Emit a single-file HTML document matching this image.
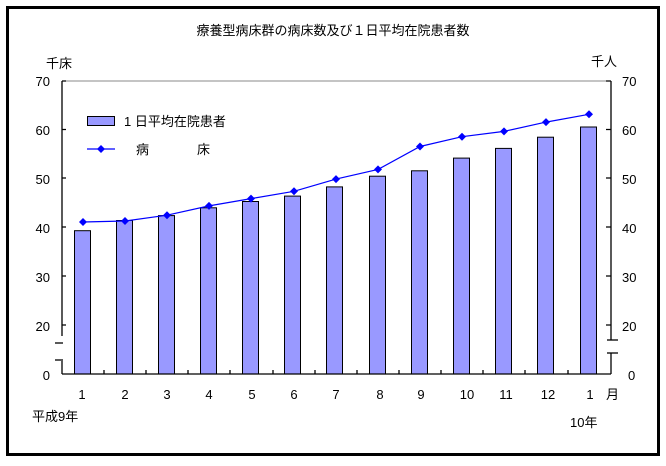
<!DOCTYPE html>
<html><head><meta charset="utf-8"><style>
body{margin:0;background:#fff}
svg text{font-family:"Liberation Sans","Noto Sans CJK JP",sans-serif;font-size:13px;fill:#000}
</style></head><body>
<svg width="666" height="461" xmlns="http://www.w3.org/2000/svg">
<rect x="7.5" y="7.5" width="651" height="447" fill="#fff" stroke="#000" stroke-width="3"/>
<text x="333" y="35" text-anchor="middle" font-size="14">療養型病床群の病床数及び１日平均在院患者数</text>
<text x="46" y="68">千床</text>
<text x="591" y="66">千人</text>
<line x1="62" y1="81" x2="611" y2="81" stroke="#888"/>
<g id="bars" fill="#9999ff" stroke="#000" stroke-width="1">
<rect x="74.5" y="230.7" width="16" height="143.3"/>
<rect x="116.5" y="220.5" width="16" height="153.5"/>
<rect x="158.5" y="215.6" width="16" height="158.4"/>
<rect x="200.5" y="207.8" width="16" height="166.2"/>
<rect x="242.5" y="201.5" width="16" height="172.5"/>
<rect x="284.5" y="196.1" width="16" height="177.9"/>
<rect x="326.5" y="186.9" width="16" height="187.1"/>
<rect x="369.5" y="176.2" width="16" height="197.8"/>
<rect x="411.5" y="170.8" width="16" height="203.2"/>
<rect x="453.5" y="158.1" width="16" height="215.9"/>
<rect x="495.5" y="148.4" width="16" height="225.6"/>
<rect x="537.5" y="137.2" width="16" height="236.8"/>
<rect x="580.5" y="127" width="16" height="247"/>
</g>
<polyline fill="none" stroke="#0000ff" stroke-width="1.2" points="83,222 125,221 167,215.2 209,205.9 251,198.6 294,191.3 336,179.1 378,169.4 420,146.5 462,136.7 504,131.4 546,122.1 589,114.3"/>
<g fill="#0000ff">
<path d="M83 218l4 4-4 4-4-4z"/><path d="M125 217l4 4-4 4-4-4z"/><path d="M167 211.2l4 4-4 4-4-4z"/><path d="M209 201.9l4 4-4 4-4-4z"/><path d="M251 194.6l4 4-4 4-4-4z"/><path d="M294 187.3l4 4-4 4-4-4z"/><path d="M336 175.1l4 4-4 4-4-4z"/><path d="M378 165.4l4 4-4 4-4-4z"/><path d="M420 142.5l4 4-4 4-4-4z"/><path d="M462 132.7l4 4-4 4-4-4z"/><path d="M504 127.4l4 4-4 4-4-4z"/><path d="M546 118.1l4 4-4 4-4-4z"/><path d="M589 110.3l4 4-4 4-4-4z"/>
</g>
<g stroke="#000" stroke-width="1.3" fill="none">
<line x1="62" y1="81" x2="62" y2="336"/><line x1="62" y1="361" x2="62" y2="374"/>
<line x1="55" y1="343" x2="63" y2="343"/><line x1="55" y1="360" x2="63" y2="360"/>
<line x1="611" y1="81" x2="611" y2="340"/><line x1="611" y1="353" x2="611" y2="374"/>
<line x1="607" y1="340" x2="618" y2="340"/><line x1="607" y1="353" x2="618" y2="353"/>
<line x1="62" y1="374" x2="611" y2="374"/>
<path d="M62 81h4M62 129.5h4M62 178h4M62 227h4M62 276h4M62 325h4"/>
<path d="M611 81h-5M611 129.5h-5M611 178h-5M611 227h-5M611 276h-5M611 325h-5"/>
<path d="M104 374v-4M146 374v-4M188 374v-4M230 374v-4M273 374v-4M315 374v-4M357 374v-4M399 374v-4M441 374v-4M483 374v-4M525 374v-4M568 374v-4"/>
</g>
<g text-anchor="end">
<text x="50" y="86">70</text><text x="50" y="135">60</text><text x="50" y="184">50</text><text x="50" y="233">40</text><text x="50" y="282">30</text><text x="50" y="331">20</text><text x="50" y="380">0</text>
</g>
<g>
<text x="622" y="86">70</text><text x="622" y="135">60</text><text x="622" y="184">50</text><text x="622" y="233">40</text><text x="622" y="282">30</text><text x="622" y="331">20</text><text x="628" y="380">0</text>
</g>
<g text-anchor="middle">
<text x="82" y="399">1</text><text x="125" y="399">2</text><text x="167" y="399">3</text><text x="209" y="399">4</text><text x="252" y="399">5</text><text x="294" y="399">6</text><text x="336" y="399">7</text><text x="380" y="399">8</text><text x="421" y="399">9</text><text x="467" y="399">10</text><text x="506" y="399">11</text><text x="548" y="399">12</text><text x="590" y="399">1</text>
</g>
<text x="606" y="399">月</text>
<text x="32" y="421">平成9年</text>
<text x="570" y="427">10年</text>
<rect x="87.5" y="116.5" width="27" height="9" fill="#9999ff" stroke="#000"/>
<text x="124" y="126">1 日平均在院患者</text>
<line x1="87" y1="149" x2="115" y2="149" stroke="#0000ff" stroke-width="1.2"/>
<path d="M101 145l4 4-4 4-4-4z" fill="#0000ff"/>
<text x="136" y="154">病</text><text x="197" y="154">床</text>
</svg>
</body></html>
